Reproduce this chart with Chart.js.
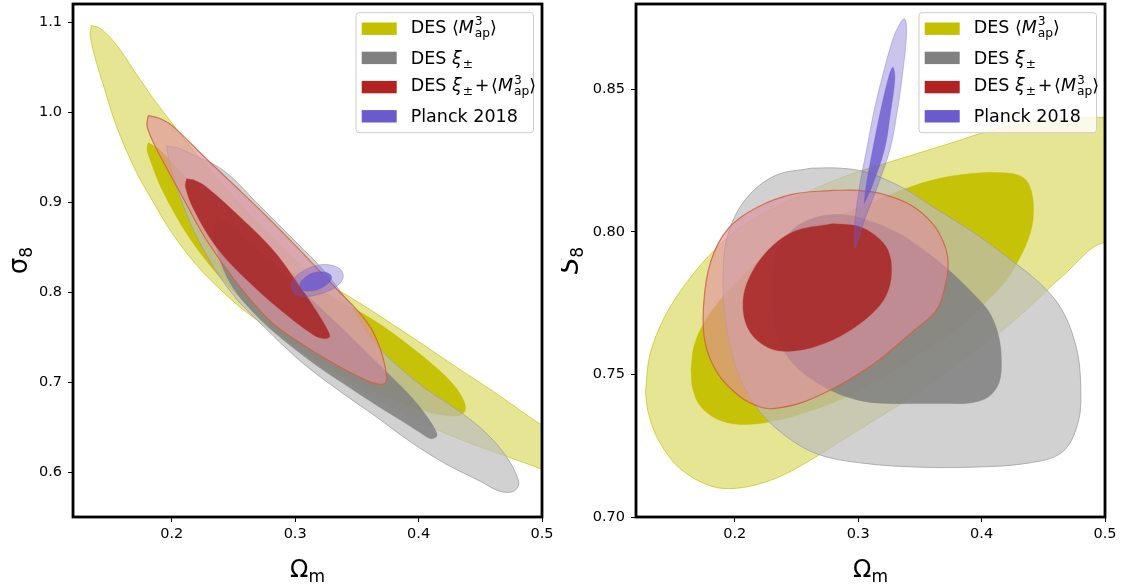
<!DOCTYPE html>
<html lang="en">
<head>
  <meta charset="UTF-8">
  <title>DES Map3 contours</title>
  <script src="https://cdn.jsdelivr.net/npm/chart.js"></script>
  <style>
    *{box-sizing:border-box}
    body{margin:0;background:#fff;font-family:"DejaVu Sans",sans-serif}
    #wrap{display:flex;width:1122px;height:586px}
    canvas{display:block}
  </style>
</head>
<body>
<div id="wrap">
  <canvas id="leftChart" width="561" height="586"></canvas>
  <canvas id="rightChart" width="561" height="586"></canvas>
</div>
<script>
/* ---------- ticks ---------- */
const omTicks = [0.2, 0.3, 0.4, 0.5];
const omTickLabels = ['0.2', '0.3', '0.4', '0.5'];
const sigTicks = [0.6, 0.7, 0.8, 0.9, 1.0, 1.1];
const sigTickLabels = ['0.6', '0.7', '0.8', '0.9', '1.0', '1.1'];
const s8Ticks = [0.70, 0.75, 0.80, 0.85];
const s8TickLabels = ['0.70', '0.75', '0.80', '0.85'];

/* ---------- legend ---------- */
const legendLabels = [
  [['DES ', 'r'], ['\u27E8', 'r'], ['M', 'i'], ['3', 'sup'], ['ap', 'sub'], ['\u27E9', 'r']],
  [['DES ', 'r'], ['\u03BE', 'i'], ['\u00B1', 'sub']],
  [['DES ', 'r'], ['\u03BE', 'i'], ['\u00B1', 'sub'], ['+', 'op'], ['\u27E8', 'r'], ['M', 'i'], ['3', 'sup'], ['ap', 'sub'], ['\u27E9', 'r']],
  [['Planck 2018', 'r']]
];
const legendColors = ['rgb(196,192,0)', 'rgb(128,128,128)', 'rgb(178,34,34)', 'rgb(106,90,205)'];

/* ---------- left panel contours: Omega_m vs sigma_8 ---------- */
const mapOuterL = [[0.135,1.096],[0.142,1.093],[0.155,1.075],[0.170,1.045],[0.185,1.015],[0.200,0.988],[0.220,0.953],[0.240,0.921],[0.260,0.890],[0.280,0.862],[0.300,0.835],[0.320,0.814],[0.340,0.798],[0.360,0.781],[0.380,0.763],[0.400,0.745],[0.430,0.717],[0.460,0.690],[0.500,0.652],[0.520,0.636],[0.520,0.592],[0.500,0.603],[0.470,0.618],[0.440,0.633],[0.410,0.650],[0.380,0.671],[0.350,0.694],[0.320,0.720],[0.290,0.749],[0.260,0.778],[0.240,0.802],[0.220,0.830],[0.200,0.866],[0.185,0.900],[0.170,0.937],[0.155,0.985],[0.145,1.028],[0.138,1.060],[0.134,1.085]];
const mapInnerL = [[0.181,0.966],[0.190,0.958],[0.205,0.937],[0.220,0.915],[0.240,0.887],[0.260,0.861],[0.280,0.838],[0.300,0.819],[0.330,0.795],[0.350,0.780],[0.370,0.763],[0.390,0.743],[0.410,0.721],[0.425,0.702],[0.434,0.686],[0.438,0.671],[0.434,0.663],[0.420,0.663],[0.400,0.670],[0.380,0.680],[0.360,0.692],[0.340,0.706],[0.320,0.722],[0.300,0.740],[0.280,0.762],[0.260,0.787],[0.240,0.815],[0.225,0.840],[0.212,0.865],[0.200,0.893],[0.190,0.920],[0.183,0.945],[0.180,0.958]];
const xiOuterL = [[0.196,0.962],[0.205,0.960],[0.215,0.954],[0.242,0.935],[0.269,0.899],[0.296,0.862],[0.323,0.824],[0.345,0.785],[0.360,0.752],[0.375,0.728],[0.390,0.710],[0.405,0.693],[0.425,0.675],[0.445,0.655],[0.462,0.633],[0.474,0.611],[0.480,0.594],[0.481,0.585],[0.476,0.578],[0.465,0.579],[0.451,0.589],[0.422,0.609],[0.394,0.633],[0.365,0.662],[0.336,0.690],[0.307,0.720],[0.278,0.757],[0.249,0.798],[0.223,0.854],[0.206,0.908],[0.198,0.945]];
const xiInnerL = [[0.236,0.884],[0.245,0.876],[0.260,0.858],[0.280,0.834],[0.300,0.808],[0.320,0.783],[0.340,0.757],[0.360,0.730],[0.380,0.703],[0.395,0.682],[0.407,0.661],[0.415,0.641],[0.410,0.637],[0.400,0.645],[0.385,0.658],[0.365,0.675],[0.345,0.693],[0.325,0.711],[0.305,0.731],[0.285,0.753],[0.265,0.779],[0.250,0.804],[0.240,0.832],[0.235,0.862]];
const jointOuterL = [[0.181,0.996],[0.190,0.993],[0.201,0.984],[0.228,0.948],[0.255,0.913],[0.282,0.877],[0.309,0.839],[0.336,0.800],[0.352,0.777],[0.363,0.756],[0.371,0.728],[0.374,0.705],[0.372,0.698],[0.363,0.699],[0.350,0.707],[0.336,0.717],[0.309,0.739],[0.282,0.765],[0.255,0.806],[0.228,0.858],[0.207,0.910],[0.188,0.958],[0.180,0.984]];
const jointInnerL = [[0.212,0.926],[0.219,0.924],[0.228,0.917],[0.255,0.884],[0.282,0.847],[0.304,0.806],[0.320,0.773],[0.327,0.756],[0.328,0.750],[0.324,0.748],[0.315,0.752],[0.288,0.780],[0.261,0.813],[0.236,0.850],[0.218,0.891],[0.211,0.917]];
const planckOuterL = [[0.2965,0.806],[0.300,0.798],[0.308,0.795],[0.318,0.797],[0.330,0.803],[0.3365,0.810],[0.339,0.818],[0.336,0.826],[0.326,0.8305],[0.316,0.829],[0.306,0.823],[0.299,0.815]];
const planckInnerL = [[0.304,0.806],[0.3065,0.802],[0.312,0.801],[0.319,0.803],[0.326,0.8085],[0.3296,0.815],[0.328,0.820],[0.3215,0.8225],[0.314,0.821],[0.307,0.815],[0.304,0.810]];

/* ---------- right panel contours: Omega_m vs S_8 ---------- */
const mapOuterR = [[0.1277,0.7437],[0.1312,0.7568],[0.1428,0.7699],[0.1602,0.7818],[0.1805,0.7923],[0.2038,0.8014],[0.2328,0.8087],[0.2619,0.8146],[0.2909,0.8198],[0.3200,0.8238],[0.3490,0.8277],[0.3780,0.8316],[0.4071,0.8356],[0.4361,0.8382],[0.4652,0.8398],[0.5000,0.8402],[0.5200,0.8404],[0.5200,0.7850],[0.5000,0.7962],[0.4652,0.7844],[0.4361,0.7726],[0.4071,0.7621],[0.3780,0.7529],[0.3490,0.7437],[0.3200,0.7358],[0.2909,0.7280],[0.2619,0.7201],[0.2328,0.7135],[0.2038,0.7102],[0.1805,0.7109],[0.1544,0.7175],[0.1370,0.7280],[0.1297,0.7371]];
const mapInnerR = [[0.1646,0.7516],[0.1670,0.7600],[0.1750,0.7680],[0.1880,0.7760],[0.2050,0.7840],[0.2250,0.7920],[0.2500,0.7990],[0.2750,0.8040],[0.3000,0.8085],[0.3345,0.8146],[0.3630,0.8185],[0.3920,0.8205],[0.4200,0.8207],[0.4340,0.8190],[0.4405,0.8140],[0.4419,0.8060],[0.4390,0.7990],[0.4310,0.7910],[0.4200,0.7830],[0.4050,0.7760],[0.3800,0.7660],[0.3500,0.7570],[0.3200,0.7490],[0.2900,0.7420],[0.2600,0.7370],[0.2300,0.7335],[0.2038,0.7325],[0.1850,0.7345],[0.1720,0.7390],[0.1660,0.7450]];
const xiOuterR = [[0.2619,0.8224],[0.2328,0.8198],[0.2096,0.8119],[0.1951,0.8001],[0.1907,0.7870],[0.1922,0.7700],[0.2009,0.7529],[0.2154,0.7398],[0.2386,0.7293],[0.2677,0.7220],[0.3054,0.7188],[0.3490,0.7175],[0.3926,0.7175],[0.4361,0.7188],[0.4652,0.7227],[0.4782,0.7332],[0.4803,0.7463],[0.4768,0.7594],[0.4652,0.7726],[0.4477,0.7818],[0.4216,0.7909],[0.3926,0.8001],[0.3635,0.8080],[0.3345,0.8159],[0.3054,0.8211],[0.2851,0.8224]];
const xiInnerR = [[0.2300,0.7760],[0.2330,0.7900],[0.2450,0.8000],[0.2650,0.8050],[0.2900,0.8060],[0.3150,0.8030],[0.3350,0.7990],[0.3520,0.7940],[0.3670,0.7890],[0.3800,0.7840],[0.3940,0.7780],[0.4060,0.7720],[0.4135,0.7640],[0.4160,0.7550],[0.4140,0.7470],[0.4050,0.7420],[0.3900,0.7400],[0.3700,0.7398],[0.3500,0.7398],[0.3200,0.7399],[0.3000,0.7410],[0.2800,0.7440],[0.2600,0.7490],[0.2450,0.7550],[0.2350,0.7630]];
const jointOuterR = [[0.2793,0.8146],[0.2473,0.8133],[0.2183,0.8087],[0.1951,0.8014],[0.1805,0.7896],[0.1747,0.7739],[0.1762,0.7608],[0.1863,0.7503],[0.2038,0.7424],[0.2212,0.7385],[0.2328,0.7381],[0.2561,0.7404],[0.2851,0.7463],[0.3141,0.7542],[0.3432,0.7647],[0.3635,0.7726],[0.3708,0.7818],[0.3728,0.7896],[0.3693,0.7962],[0.3606,0.8028],[0.3432,0.8093],[0.3200,0.8133],[0.2996,0.8146]];
const jointInnerR = [[0.2793,0.8030],[0.2473,0.8001],[0.2241,0.7923],[0.2096,0.7818],[0.2067,0.7726],[0.2125,0.7647],[0.2270,0.7594],[0.2444,0.7581],[0.2677,0.7601],[0.2909,0.7647],[0.3112,0.7713],[0.3229,0.7778],[0.3272,0.7857],[0.3243,0.7936],[0.3141,0.7988],[0.2996,0.8021]];
const planckOuterR = [[0.2970,0.7942],[0.2972,0.8028],[0.3011,0.8159],[0.3069,0.8290],[0.3127,0.8421],[0.3200,0.8552],[0.3287,0.8684],[0.3345,0.8736],[0.3372,0.8748],[0.3388,0.8736],[0.3391,0.8684],[0.3359,0.8552],[0.3316,0.8421],[0.3258,0.8290],[0.3156,0.8159],[0.3040,0.8028],[0.2985,0.7950]];
const planckInnerR = [[0.3048,0.8100],[0.3063,0.8159],[0.3118,0.8290],[0.3179,0.8421],[0.3252,0.8552],[0.3282,0.8578],[0.3298,0.8540],[0.3263,0.8421],[0.3214,0.8290],[0.3112,0.8159],[0.3058,0.8108]];

/* ---------- styles ---------- */
const styles = {
  mapOuter:    {bg: 'rgba(196,192,0,0.42)',  line: 'rgba(196,192,0,0.65)',  lw: 1},
  mapInner:    {bg: 'rgba(196,192,0,0.95)',  line: 'rgba(196,192,0,0.9)',   lw: 0.5},
  xiOuter:     {bg: 'rgba(190,190,190,0.7)', line: 'rgba(160,160,160,0.8)', lw: 1},
  xiInner:     {bg: 'rgba(128,128,128,0.85)',line: 'rgba(128,128,128,0.8)', lw: 0.5},
  jointOuter:  {bg: 'rgba(224,142,158,0.62)',line: 'rgba(205,100,60,0.85)', lw: 1.2},
  jointInner:  {bg: 'rgba(168,40,40,0.9)',   line: 'rgba(200,90,60,0.5)',   lw: 0.6},
  planckOuter: {bg: 'rgba(106,90,205,0.35)', line: 'rgba(106,90,205,0.35)', lw: 1},
  planckInner: {bg: 'rgba(106,90,205,0.8)',  line: 'rgba(106,90,205,0.6)',  lw: 0.5}
};

function shape(points, st, order){
  const data = points.map(p => ({x: p[0], y: p[1]}));
  data.push({x: points[0][0], y: points[0][1]});
  return {
    data, showLine: true, fill: 'shape',
    backgroundColor: st.bg, borderColor: st.line, borderWidth: st.lw,
    pointRadius: 0, tension: 0.35, clip: 0, order
  };
}

// bottom to top
function buildDatasets(layers){
  const n = layers.length;
  return layers.map((l, i) => shape(l[0], styles[l[1]], n - i));
}

/* ---------- drawing helpers ---------- */
function drawRuns(ctx, runs, x, y, fs){
  let supStart = null, supW = 0;
  for(const [txt, st] of runs){
    const small = (st === 'sup' || st === 'sub');
    const size = small ? fs * 0.7 : fs;
    ctx.font = (st === 'i' ? 'italic ' : '') + size + 'px "DejaVu Sans"';
    let dy = 0;
    if(st === 'sup') dy = -fs * 0.42;
    if(st === 'sub') dy = fs * 0.24;
    const w = ctx.measureText(txt).width;
    if(st === 'op'){
      x += fs * 0.1;
      ctx.fillText(txt, x, y);
      x += w + fs * 0.1;
      supStart = null;
      continue;
    }
    let sx = x;
    if(st === 'sub' && supStart !== null) sx = supStart;
    ctx.fillText(txt, sx, y + dy);
    if(st === 'sup'){ supStart = x; supW = w; x += w; }
    else if(st === 'sub' && supStart !== null){ x = supStart + Math.max(w, supW); supStart = null; }
    else { x = sx + w + (st === 'i' ? 1 : 0); supStart = null; }
  }
}

function legendPlugin(){
  return {
    id: 'mathLegend',
    afterDatasetsDraw(chart){
      const {ctx, chartArea: a} = chart;
      const fs = 17.5;
      const w = 177.5, h = 120;
      const right = a.right - 8.5, top = a.top + 8.7, left = right - w;
      ctx.save();
      // frame of axes
      ctx.strokeStyle = '#000';
      ctx.lineWidth = 2.8;
      ctx.strokeRect(a.left, a.top, a.right - a.left, a.bottom - a.top);
      // legend box
      ctx.beginPath();
      ctx.roundRect(left, top, w, h, 3);
      ctx.fillStyle = 'rgba(255,255,255,0.8)';
      ctx.fill();
      ctx.strokeStyle = 'rgba(204,204,204,1)';
      ctx.lineWidth = 1;
      ctx.stroke();
      legendLabels.forEach((runs, i) => {
        const cy = top + 16 + i * 29.2;
        ctx.fillStyle = legendColors[i];
        ctx.fillRect(left + 5.7, cy - 6.2, 35, 12.4);
        ctx.fillStyle = '#000';
        ctx.textBaseline = 'alphabetic';
        ctx.textAlign = 'left';
        const hasSup = runs.some(r => r[1] === 'sup');
        drawRuns(ctx, runs, left + 54.7, cy + (hasSup ? 3.8 : 5.6), fs);
      });
      ctx.restore();
    }
  };
}

function titlePlugin(yMain, ySub, yOffset){
  return {
    id: 'axisTitles',
    afterDraw(chart){
      const {ctx, chartArea: a} = chart;
      ctx.save();
      ctx.fillStyle = '#000';
      ctx.textBaseline = 'alphabetic';
      ctx.textAlign = 'left';
      // x title
      const big = '24px "DejaVu Sans"', sm = '17px "DejaVu Sans"';
      ctx.font = big; const w1 = ctx.measureText('\u03A9').width;
      ctx.font = sm; const w2 = ctx.measureText('m').width;
      let x0 = (a.left + a.right) / 2 - (w1 + w2) / 2;
      ctx.font = big; ctx.fillText('\u03A9', x0, 577);
      ctx.font = sm; ctx.fillText('m', x0 + w1, 582);
      // y title, rotated
      ctx.translate(a.left - yOffset, (a.top + a.bottom) / 2);
      ctx.rotate(-Math.PI / 2);
      const mainFont = (yMain === 'S' ? 'italic ' : '') + '26px "DejaVu Sans"';
      ctx.font = mainFont;
      const v1 = ctx.measureText(yMain).width;
      ctx.font = sm; const v2 = ctx.measureText(ySub).width;
      const s0 = -(v1 + v2) / 2;
      ctx.font = mainFont;
      ctx.fillText(yMain, s0, 0);
      ctx.font = sm; ctx.fillText(ySub, s0 + v1, 5);
      ctx.restore();
    }
  };
}

function makeChart(id, datasets, yMin, yMax, yTicks, yLabels, yWidth, padRight, yMain, yOffset){
  const tickFont = {family: 'DejaVu Sans', size: 14.5};
  return new Chart(document.getElementById(id), {
    type: 'scatter',
    data: {datasets},
    options: {
      responsive: false,
      animation: false,
      events: [],
      layout: {padding: {top: 4, right: padRight, left: 0, bottom: 0}},
      plugins: {legend: {display: false}, tooltip: {enabled: false}, filler: {drawTime: 'beforeDatasetDraw'}},
      scales: {
        x: {
          type: 'linear', min: 0.12, max: 0.5,
          afterBuildTicks: s => { s.ticks = omTicks.map(v => ({value: v})); },
          afterFit: s => { s.height = 69; s.paddingLeft = 0; s.paddingRight = 0; },
          ticks: {callback: (v, i) => omTickLabels[i], font: tickFont, color: '#000', padding: 4, maxRotation: 0},
          grid: {drawOnChartArea: false, drawTicks: true, tickLength: 5, color: '#000', lineWidth: 1},
          border: {display: false}
        },
        y: {
          type: 'linear', min: yMin, max: yMax,
          afterBuildTicks: s => { s.ticks = yTicks.map(v => ({value: v})); },
          afterFit: s => { s.width = yWidth; s.paddingTop = 0; s.paddingBottom = 0; },
          ticks: {callback: (v, i) => yLabels[i], font: tickFont, color: '#000', padding: 6},
          grid: {drawOnChartArea: false, drawTicks: true, tickLength: 5, color: '#000', lineWidth: 1},
          border: {display: false}
        }
      }
    },
    plugins: [legendPlugin(), titlePlugin(yMain, '8', yOffset)]
  });
}

if(typeof Chart !== 'undefined'){
  const leftSets = buildDatasets([
    [mapOuterL, 'mapOuter'], [mapInnerL, 'mapInner'],
    [xiOuterL, 'xiOuter'], [xiInnerL, 'xiInner'],
    [jointOuterL, 'jointOuter'], [jointInnerL, 'jointInner'],
    [planckOuterL, 'planckOuter'], [planckInnerL, 'planckInner']
  ]);
  const rightSets = buildDatasets([
    [mapOuterR, 'mapOuter'], [mapInnerR, 'mapInner'],
    [xiOuterR, 'xiOuter'], [xiInnerR, 'xiInner'],
    [jointOuterR, 'jointOuter'], [jointInnerR, 'jointInner'],
    [planckOuterR, 'planckOuter'], [planckInnerR, 'planckInner']
  ]);
  makeChart('leftChart', leftSets, 0.55, 1.12, sigTicks, sigTickLabels, 73, 19, '\u03C3', 46);
  makeChart('rightChart', rightSets, 0.70, 0.88, s8Ticks, s8TickLabels, 75, 17, 'S', 58);
}
</script>
</body>
</html>
